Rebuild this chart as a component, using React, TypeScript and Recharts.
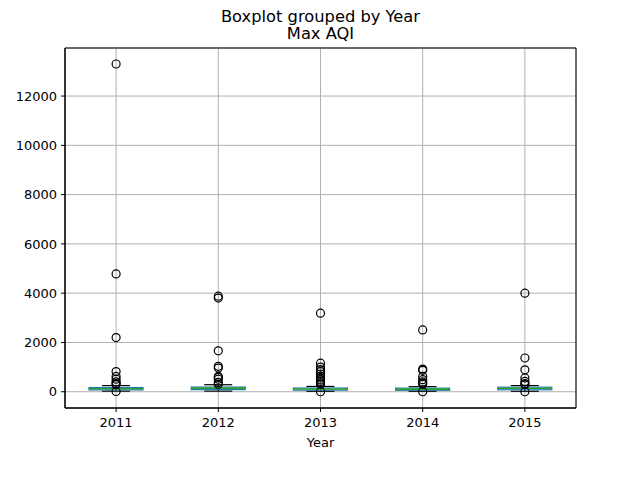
import React from 'react';
import {
  ComposedChart,
  Bar,
  Scatter,
  XAxis,
  YAxis,
  CartesianGrid,
  ReferenceArea,
} from 'recharts';

const FONT = '"DejaVu Sans", sans-serif';

// box stats per year
const years = ['2011', '2012', '2013', '2014', '2015'];
const whiskerLow = [25, 25, 20, 20, 20];
const q1 = [75, 85, 65, 60, 80];
const median = [120, 145, 110, 105, 140];
const q3 = [170, 190, 150, 145, 185];
const whiskerHigh = [250, 285, 215, 205, 250];

// fliers
const out2011 = [13300, 4780, 2200, 820, 620, 510, 400, 330, 290, 10];
const out2012 = [3880, 3800, 1660, 1030, 960, 620, 580, 510, 380, 300];
const out2013 = [3190, 1160, 1000, 900, 820, 720, 620, 550, 480, 420, 360, 300, 0];
const out2014 = [2510, 920, 870, 620, 490, 400, 350, 300, 0];
const out2015 = [4000, 1370, 890, 560, 420, 330, 290, 0];
const outliers = [out2011, out2012, out2013, out2014, out2015];

const yTicks = [0, 2000, 4000, 6000, 8000, 10000, 12000];
const yDomain = [-660, 13950];

const rows = years.map((year, i) => ({
  year,
  whisker: [whiskerLow[i], whiskerHigh[i]],
  box: [q1[i], q3[i]],
  med: median[i],
  lo: q1[i],
  hi: q3[i],
}));

const fliers = outliers.flatMap((vals, i) =>
  vals.map((v) => ({ yr: Number(years[i]), v }))
);

function WhiskerShape(props: any) {
  const { x, y, width, height } = props;
  const cx = x + width / 2;
  return (
    <g stroke="#000" strokeWidth={1.2} fill="none">
      <line x1={cx} x2={cx} y1={y} y2={y + height} />
      <line x1={x} x2={x + width} y1={y} y2={y} />
      <line x1={x} x2={x + width} y1={y + height} y2={y + height} />
    </g>
  );
}

function BoxShape(props: any) {
  const { x, y, width, height, payload } = props;
  // median pixel from the bar's own q1..q3 span
  const my = y + (height * (payload.hi - payload.med)) / (payload.hi - payload.lo);
  return (
    <g>
      <rect x={x} y={y} width={width} height={height} fill="none" stroke="#1f77b4" strokeWidth={1.2} />
      <line x1={x} x2={x + width} y1={my} y2={my} stroke="#2ca02c" strokeWidth={1.6} />
    </g>
  );
}

function Flier(props: any) {
  const { cx, cy } = props;
  return <circle cx={cx} cy={cy} r={4} fill="none" stroke="#000" strokeWidth={1.2} />;
}

export default function App() {
  return (
    <div style={{ position: 'absolute', left: 0, top: 0, width: 640, height: 480, background: '#fff', fontFamily: FONT }}>
      <div
        style={{
          position: 'absolute',
          left: 0,
          width: 641,
          top: 8,
          lineHeight: '17px',
          fontSize: 16.3,
          textAlign: 'center',
          whiteSpace: 'pre-line',
        }}
      >
        {'Boxplot grouped by Year\nMax AQI'}
      </div>
      <ComposedChart
        width={640}
        height={480}
        data={rows}
        margin={{ top: 48, right: 64, left: 0, bottom: 0 }}
        style={{ fontFamily: FONT }}
      >
        <CartesianGrid xAxisId="main" stroke="#b0b0b0" strokeWidth={1} />
        <XAxis
          xAxisId="main"
          dataKey="year"
          type="category"
          height={72}
          tickSize={4}
          tickMargin={6}
          tick={{ fill: '#000', fontSize: 13 }}
          tickLine={{ stroke: '#000' }}
          axisLine={{ stroke: '#000' }}
          label={{ value: 'Year', position: 'insideBottom', offset: 33, fill: '#000', fontSize: 13 }}
        />
        <XAxis xAxisId="w" dataKey="year" type="category" hide />
        <XAxis xAxisId="s" dataKey="yr" type="number" domain={[2010.5, 2015.5]} hide />
        <YAxis
          type="number"
          domain={yDomain}
          allowDataOverflow
          ticks={yTicks}
          width={65}
          tickSize={4}
          tickMargin={4}
          tick={{ fill: '#000', fontSize: 13 }}
          tickLine={{ stroke: '#000' }}
          axisLine={{ stroke: '#000' }}
        />
        <ReferenceArea
          xAxisId="s"
          x1={2010.5}
          x2={2015.5}
          y1={yDomain[0]}
          y2={yDomain[1]}
          fill="none"
          stroke="#000"
          strokeWidth={1}
          ifOverflow="extendDomain"
        />
        <Bar xAxisId="w" dataKey="whisker" barSize={28} shape={WhiskerShape} isAnimationActive={false} />
        <Bar xAxisId="main" dataKey="box" barSize={54} shape={BoxShape} isAnimationActive={false} />
        <Scatter xAxisId="s" data={fliers} dataKey="v" shape={Flier} isAnimationActive={false} />
      </ComposedChart>
    </div>
  );
}
